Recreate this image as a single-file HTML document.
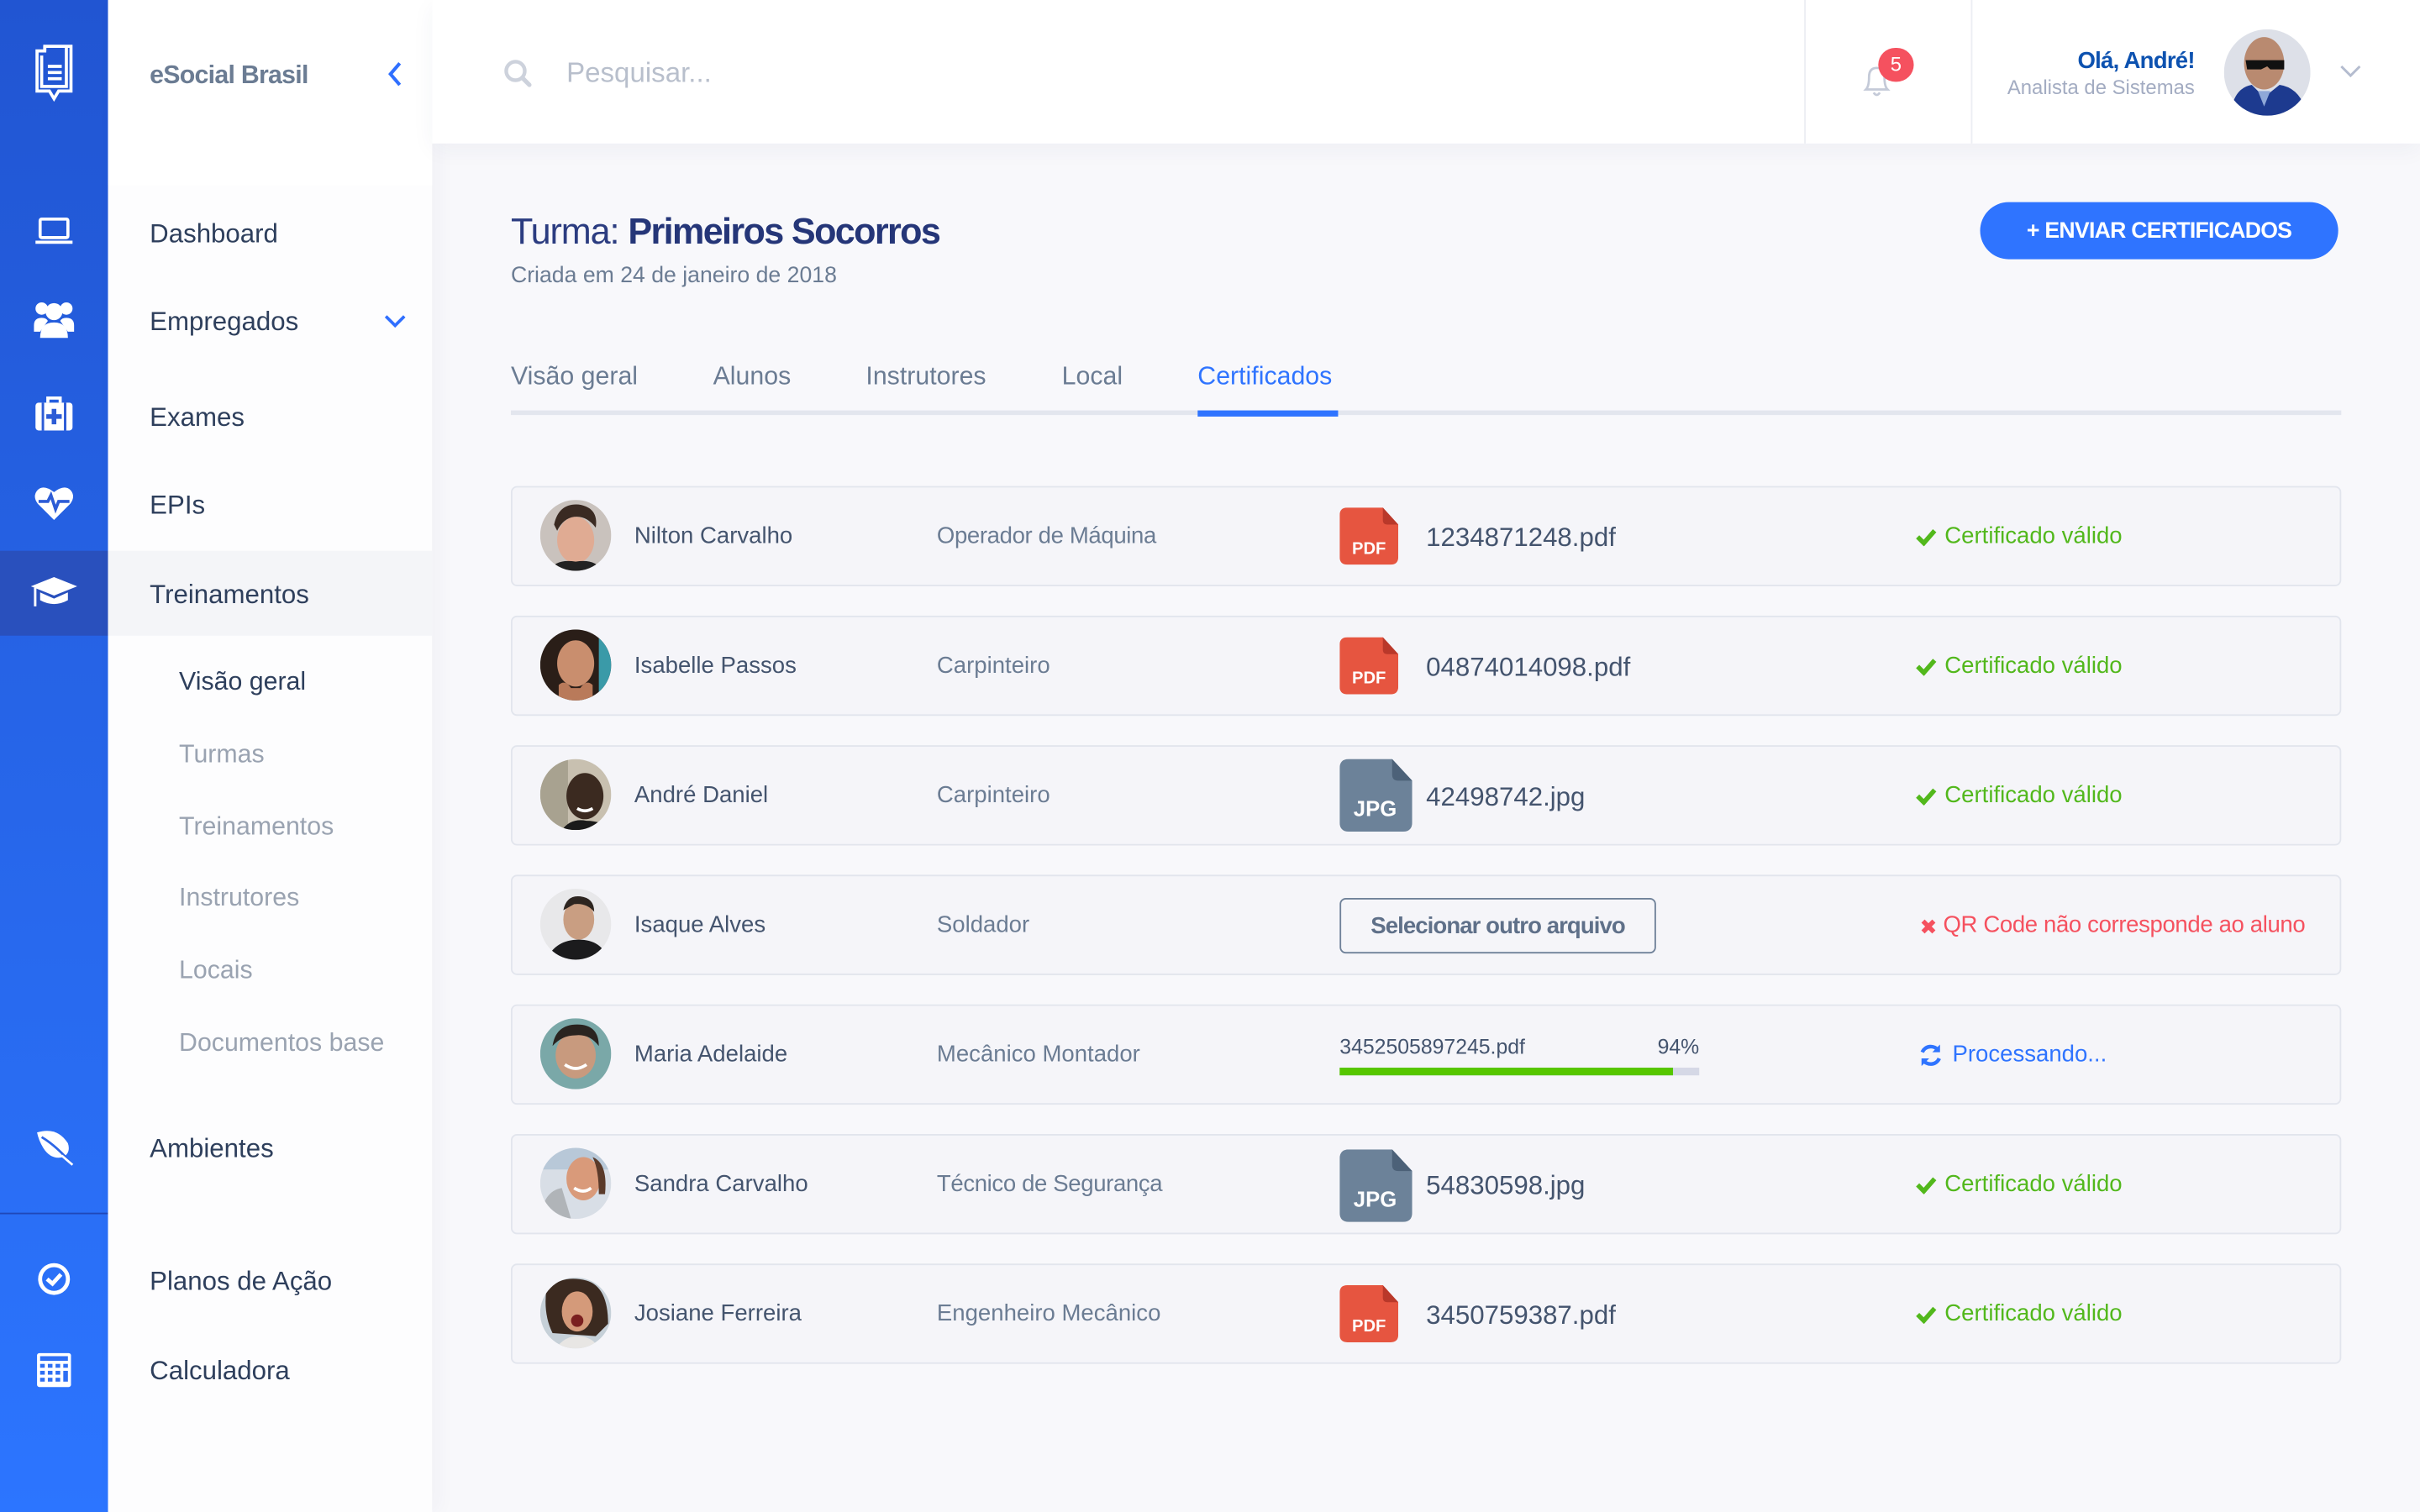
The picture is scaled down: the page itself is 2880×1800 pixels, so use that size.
<!DOCTYPE html>
<html><head><meta charset="utf-8">
<style>
html,body{margin:0;padding:0;width:2880px;height:1800px;overflow:hidden;background:#f8f8fb;}
#c{position:absolute;left:0;top:0;width:1568px;height:980px;transform:scale(1.836735);transform-origin:0 0;font-family:"Liberation Sans",Arial,sans-serif;background:#f8f8fb;overflow:hidden;}
.a{position:absolute;}
.t{position:absolute;white-space:nowrap;line-height:20px;height:20px;margin-top:1px;}
.row{position:absolute;left:331px;width:1184px;height:63px;background:#f5f5f9;border:1px solid #e2e5ed;border-radius:4px;}
.nm{font-size:15px;color:#44546e;}
.rl{font-size:15px;color:#6b7c93;}
.fn{font-size:17px;color:#44546e;}
.ok{font-size:15px;color:#52b81c;}
.mi{font-size:17px;color:#2e3f5c;}
.si{font-size:16.5px;color:#9aa3b1;}
</style></head><body>
<div id="c">
<!-- icon bar -->
<div class="a" style="left:0;top:0;width:70px;height:980px;background:linear-gradient(#2155d2,#2c75ff);"></div>
<div class="a" style="left:0;top:357px;width:70px;height:55px;background:#2950bd;"></div>
<div class="a" style="left:0;top:786px;width:70px;height:1px;background:#2048b8;"></div>

<!-- logo -->
<svg class="a" style="left:20px;top:27px" width="30" height="40" viewBox="0 0 30 40" fill="none" stroke="#fff" stroke-width="2">
<path d="M9 3 V6 H4 V32 H12 L15 37 L18 32 H26 V3 Z"/><path d="M9 3 L9 6"/><path d="M7 9 V29 H23 V3"/>
<line x1="11" y1="16" x2="20" y2="16"/><line x1="11" y1="20" x2="20" y2="20"/><line x1="11" y1="24" x2="20" y2="24"/>
</svg>
<!-- laptop -->
<svg class="a" style="left:22px;top:140px" width="26" height="20" viewBox="0 0 26 20" fill="none" stroke="#fff" stroke-width="2"><rect x="4" y="2" width="18" height="12" rx="1"/><path d="M1 17 H25"/></svg>
<!-- users -->
<svg class="a" style="left:21px;top:194px" width="28" height="26" viewBox="0 0 28 26" fill="#fff"><circle cx="6" cy="6" r="4"/><circle cx="22" cy="6" r="4"/><circle cx="14" cy="8" r="5.5"/><path d="M1 17 Q1 12 6 12 Q9 12 10 14 L5 21 H1 Z"/><path d="M27 17 Q27 12 22 12 Q19 12 18 14 L23 21 H27 Z"/><path d="M5 25 Q5 15 14 15 Q23 15 23 25 Z"/></svg>
<!-- medkit -->
<svg class="a" style="left:22px;top:256px" width="26" height="26" viewBox="0 0 26 26"><path d="M9 5 V2 H17 V5" fill="none" stroke="#fff" stroke-width="2"/><rect x="1" y="5" width="24" height="18" rx="2" fill="#fff"/><rect x="5" y="5" width="1.6" height="18" fill="#2d5cd6"/><rect x="19.4" y="5" width="1.6" height="18" fill="#2d5cd6"/><path d="M11.5 9 H14.5 V12.5 H18 V15.5 H14.5 V19 H11.5 V15.5 H8 V12.5 H11.5 Z" fill="#2d5cd6"/></svg>
<!-- heart -->
<svg class="a" style="left:22px;top:314px" width="26" height="24" viewBox="0 0 26 24"><path d="M13 23 L2.5 12.5 Q-1 8 2 4 Q6 -0.5 13 5 Q20 -0.5 24 4 Q27 8 23.5 12.5 Z" fill="#fff"/><polyline points="3,11 9,11 11,7 14,16 16,11 23,11" fill="none" stroke="#2d5cd6" stroke-width="2"/></svg>
<!-- grad cap -->
<svg class="a" style="left:19px;top:372px" width="32" height="24" viewBox="0 0 32 24" fill="#fff"><path d="M16 2 L31 8 L16 14 L1 8 Z"/><path d="M7 12 V17 Q16 22 25 17 V12 L16 16 Z"/><rect x="3" y="9" width="1.6" height="12"/></svg>
<!-- leaf -->
<svg class="a" style="left:23px;top:731px" width="26" height="26" viewBox="0 0 26 26"><path d="M1 3 Q14 -1 21 10 Q23 16 18 19 Q10 21 5 13 Q2 8 1 3 Z" fill="#fff"/><path d="M4 6 Q14 12 24 24" stroke="#2d66e6" stroke-width="1.5" fill="none"/><path d="M17 18 L24 24" stroke="#fff" stroke-width="1.5"/></svg>
<!-- check circle -->
<svg class="a" style="left:24px;top:818px" width="22" height="22" viewBox="0 0 22 22"><circle cx="11" cy="11" r="9" fill="none" stroke="#fff" stroke-width="2.6"/><polyline points="6.5,11 10,14 15.5,8" fill="none" stroke="#fff" stroke-width="2.6"/></svg>
<!-- calculator -->
<svg class="a" style="left:23px;top:876px" width="24" height="24" viewBox="0 0 24 24"><rect x="1" y="1" width="22" height="22" rx="1.5" fill="#fff"/><rect x="3" y="3" width="18" height="3" fill="#2e6ff4"/>
<g fill="#2e6ff4"><rect x="3" y="8" width="3" height="2.5"/><rect x="8" y="8" width="3" height="2.5"/><rect x="13" y="8" width="3" height="2.5"/><rect x="18" y="8" width="3" height="2.5"/><rect x="3" y="12.5" width="3" height="2.5"/><rect x="8" y="12.5" width="3" height="2.5"/><rect x="13" y="12.5" width="3" height="2.5"/><rect x="18" y="12.5" width="3" height="7"/><rect x="3" y="17" width="3" height="2.5"/><rect x="8" y="17" width="3" height="2.5"/><rect x="13" y="17" width="3" height="2.5"/></g></svg>

<!-- sidebar menu -->
<div class="a" style="left:70px;top:0;width:210px;height:980px;background:#fdfdfe;box-shadow:4px 0 12px rgba(40,50,90,0.04);"></div>
<div class="a" style="left:70px;top:0;width:210px;height:120px;background:#fff;"></div>
<div class="a" style="left:70px;top:357px;width:210px;height:55px;background:#f4f5f8;"></div>
<div class="t" style="left:97px;top:38px;font-size:16.5px;font-weight:bold;color:#6b7c93;letter-spacing:-0.4px;">eSocial Brasil</div>
<svg class="a" style="left:250px;top:39px" width="12" height="18" viewBox="0 0 12 18"><polyline points="9,2 3,9 9,16" fill="none" stroke="#2f6fff" stroke-width="2.2"/></svg>
<div class="t mi" style="left:97px;top:141px;">Dashboard</div>
<div class="t mi" style="left:97px;top:198px;">Empregados</div>
<svg class="a" style="left:248px;top:202px" width="16" height="12" viewBox="0 0 16 12"><polyline points="2,3 8,9 14,3" fill="none" stroke="#2f6fff" stroke-width="2"/></svg>
<div class="t mi" style="left:97px;top:260px;">Exames</div>
<div class="t mi" style="left:97px;top:317px;">EPIs</div>
<div class="t mi" style="left:97px;top:375px;">Treinamentos</div>
<div class="t" style="left:116px;top:431px;font-size:16.5px;color:#2e3f5c;">Visão geral</div>
<div class="t si" style="left:116px;top:478px;">Turmas</div>
<div class="t si" style="left:116px;top:525px;">Treinamentos</div>
<div class="t si" style="left:116px;top:571px;">Instrutores</div>
<div class="t si" style="left:116px;top:618px;">Locais</div>
<div class="t si" style="left:116px;top:665px;">Documentos base</div>
<div class="t mi" style="left:97px;top:734px;">Ambientes</div>
<div class="t mi" style="left:97px;top:820px;">Planos de Ação</div>
<div class="t mi" style="left:97px;top:878px;">Calculadora</div>

<!-- header -->
<div class="a" style="left:280px;top:0;width:1288px;height:93px;background:#fff;box-shadow:0 4px 14px rgba(40,50,90,0.05);"></div>
<div class="a" style="left:1169px;top:0;width:1px;height:93px;background:#eceef3;"></div>
<div class="a" style="left:1277px;top:0;width:1px;height:93px;background:#eceef3;"></div>
<svg class="a" style="left:326px;top:38px" width="19" height="19" viewBox="0 0 19 19"><circle cx="8" cy="8" r="6" fill="none" stroke="#cdd2dc" stroke-width="2.4"/><line x1="12.5" y1="12.5" x2="17" y2="17" stroke="#cdd2dc" stroke-width="2.8" stroke-linecap="round"/></svg>
<div class="t" style="left:367px;top:36px;font-size:18px;color:#b8bfcc;">Pesquisar...</div>
<svg class="a" style="left:1206px;top:40px" width="22" height="24" viewBox="0 0 22 24"><path d="M3 18 Q5 16 5 10 Q5 4 10 4 Q15 4 15 10 Q15 16 17 18 Z" fill="none" stroke="#c4cad8" stroke-width="1.5"/><path d="M8 20 Q10 23 12 20" fill="none" stroke="#c4cad8" stroke-width="1.5"/></svg>
<div class="a" style="left:1217px;top:31px;width:23px;height:22px;border-radius:11px;background:#f5515f;color:#fff;font-size:13px;line-height:22px;text-align:center;">5</div>
<div class="t" style="right:146px;top:29px;font-size:15px;font-weight:bold;color:#0d52b0;letter-spacing:-0.4px;">Olá, André!</div>
<div class="t" style="right:146px;top:46px;font-size:13px;color:#a3acc2;">Analista de Sistemas</div>
<svg class="a" style="left:1441px;top:19px" width="56" height="56" viewBox="0 0 56 56"><defs><clipPath id="hc"><circle cx="28" cy="28" r="28"/></clipPath></defs><g clip-path="url(#hc)"><rect width="56" height="56" fill="#dde0e8"/><ellipse cx="26" cy="22" rx="13" ry="17" fill="#b98a70"/><path d="M14 20 H39 V26 H30 L28 24 L24 26 H15 Z" fill="#111"/><path d="M4 56 Q6 38 18 36 L26 44 L36 36 Q50 38 54 56 Z" fill="#1d3a8f"/><path d="M22 40 L26 50 L30 40 Z" fill="#8fa8d8"/></g></svg>
<svg class="a" style="left:1515px;top:40px" width="16" height="12" viewBox="0 0 16 12"><polyline points="2,3 8,9 14,3" fill="none" stroke="#b4bccf" stroke-width="1.6"/></svg>

<!-- title -->
<div class="t" style="left:331px;top:134px;height:30px;line-height:30px;font-size:23.5px;color:#2b3c80;letter-spacing:-0.6px;">Turma: <b style="color:#253678;letter-spacing:-0.9px;">Primeiros Socorros</b></div>
<div class="t" style="left:331px;top:168px;font-size:14.5px;color:#6b7c93;">Criada em 24 de janeiro de 2018</div>
<div class="a" style="left:1283px;top:131px;width:232px;height:37px;border-radius:19px;background:#2f74ff;color:#fff;font-size:14.5px;font-weight:bold;line-height:38px;text-align:center;letter-spacing:-0.4px;">+ ENVIAR CERTIFICADOS</div>

<!-- tabs -->
<div class="t" style="left:331px;top:233px;font-size:16.5px;color:#6b7c93;">Visão geral</div>
<div class="t" style="left:462px;top:233px;font-size:16.5px;color:#6b7c93;">Alunos</div>
<div class="t" style="left:561px;top:233px;font-size:16.5px;color:#6b7c93;">Instrutores</div>
<div class="t" style="left:688px;top:233px;font-size:16.5px;color:#6b7c93;">Local</div>
<div class="t" style="left:776px;top:233px;font-size:16.5px;color:#2f74ff;">Certificados</div>
<div class="a" style="left:331px;top:266px;width:1186px;height:3px;background:#e3e6ee;"></div>
<div class="a" style="left:776px;top:266px;width:91px;height:4px;background:#2f74ff;"></div>

<!-- rows -->
<div class="row" style="top:315px;"></div>
<div class="row" style="top:399px;"></div>
<div class="row" style="top:483px;"></div>
<div class="row" style="top:567px;"></div>
<div class="row" style="top:651px;"></div>
<div class="row" style="top:735px;"></div>
<div class="row" style="top:819px;"></div>

<!-- avatars -->
<svg class="a" style="left:350px;top:324px" width="46" height="46" viewBox="0 0 46 46"><defs><clipPath id="c1"><circle cx="23" cy="23" r="23"/></clipPath></defs><g clip-path="url(#c1)"><rect width="46" height="46" fill="#c9c2bd"/><ellipse cx="23" cy="26" rx="12" ry="15" fill="#e0ab93"/><path d="M9 16 Q12 2 25 3 Q38 5 36 18 Q30 10 22 11 Q15 12 11 20 Z" fill="#3a2a22"/><path d="M6 46 Q10 38 23 40 Q36 38 40 46 Z" fill="#222"/></g></svg>
<svg class="a" style="left:350px;top:408px" width="46" height="46" viewBox="0 0 46 46"><defs><clipPath id="c2"><circle cx="23" cy="23" r="23"/></clipPath></defs><g clip-path="url(#c2)"><rect width="46" height="46" fill="#2a1e18"/><rect x="38" width="8" height="46" fill="#3a9aa8"/><ellipse cx="23" cy="22" rx="12" ry="15" fill="#c98e6e"/><path d="M12 36 Q16 32 20 38 L26 38 Q30 32 34 36 L34 46 H12 Z" fill="#b97a5a"/></g></svg>
<svg class="a" style="left:350px;top:492px" width="46" height="46" viewBox="0 0 46 46"><defs><clipPath id="c3"><circle cx="23" cy="23" r="23"/></clipPath></defs><g clip-path="url(#c3)"><rect width="46" height="46" fill="#c8c0b0"/><rect width="18" height="46" fill="#a8a290"/><ellipse cx="29" cy="24" rx="12" ry="15" fill="#3b2a20"/><path d="M24 32 Q29 35 34 32" stroke="#fff" stroke-width="2" fill="none"/><path d="M14 46 Q20 38 30 40 Q40 40 46 46 Z" fill="#1a1a1a"/></g></svg>
<svg class="a" style="left:350px;top:576px" width="46" height="46" viewBox="0 0 46 46"><defs><clipPath id="c4"><circle cx="23" cy="23" r="23"/></clipPath></defs><g clip-path="url(#c4)"><rect width="46" height="46" fill="#e8e8ea"/><ellipse cx="25" cy="20" rx="10" ry="13" fill="#c99e82"/><path d="M15 14 Q17 4 26 5 Q35 6 35 15 Q30 9 22 10 Z" fill="#2d2520"/><path d="M4 46 Q10 33 25 33 Q40 33 44 46 Z" fill="#1b1b1d"/></g></svg>
<svg class="a" style="left:350px;top:660px" width="46" height="46" viewBox="0 0 46 46"><defs><clipPath id="c5"><circle cx="23" cy="23" r="23"/></clipPath></defs><g clip-path="url(#c5)"><rect width="46" height="46" fill="#7aa8a8"/><ellipse cx="23" cy="24" rx="13" ry="15" fill="#c89a7e"/><path d="M8 18 Q10 4 24 4 Q38 4 38 18 Q32 10 23 11 Q14 11 8 18 Z" fill="#2a2420"/><path d="M16 30 Q23 35 30 30" stroke="#fff" stroke-width="2" fill="none"/></g></svg>
<svg class="a" style="left:350px;top:744px" width="46" height="46" viewBox="0 0 46 46"><defs><clipPath id="c6"><circle cx="23" cy="23" r="23"/></clipPath></defs><g clip-path="url(#c6)"><rect width="46" height="46" fill="#d8dee6"/><rect width="46" height="14" fill="#b8c8d8"/><path d="M0 46 Q2 28 14 26 L20 46 Z" fill="#b0b4b8"/><ellipse cx="28" cy="20" rx="11" ry="14" fill="#d99a7a"/><path d="M34 6 Q44 10 42 30 L38 30 Q38 14 34 6 Z" fill="#5a3a2a"/><path d="M22 26 Q28 30 33 26" stroke="#fff" stroke-width="2" fill="none"/></g></svg>
<svg class="a" style="left:350px;top:828px" width="46" height="46" viewBox="0 0 46 46"><defs><clipPath id="c7"><circle cx="23" cy="23" r="23"/></clipPath></defs><g clip-path="url(#c7)"><rect width="46" height="46" fill="#c6d0d8"/><path d="M4 8 Q14 -2 30 2 Q44 6 44 30 L36 38 L8 36 Q2 24 4 8 Z" fill="#3b2a20"/><ellipse cx="24" cy="22" rx="10" ry="13" fill="#d49a7a"/><ellipse cx="24" cy="28" rx="4" ry="4" fill="#7a2020"/><path d="M10 46 Q16 38 24 38 Q34 38 38 46 Z" fill="#e8e6e4"/></g></svg>

<!-- names/roles -->
<div class="t nm" style="left:411px;top:337px;">Nilton Carvalho</div>
<div class="t rl" style="left:607px;top:337px;letter-spacing:-0.2px;">Operador de Máquina</div>
<div class="t nm" style="left:411px;top:421px;">Isabelle Passos</div>
<div class="t rl" style="left:607px;top:421px;">Carpinteiro</div>
<div class="t nm" style="left:411px;top:505px;">André Daniel</div>
<div class="t rl" style="left:607px;top:505px;">Carpinteiro</div>
<div class="t nm" style="left:411px;top:589px;">Isaque Alves</div>
<div class="t rl" style="left:607px;top:589px;">Soldador</div>
<div class="t nm" style="left:411px;top:673px;">Maria Adelaide</div>
<div class="t rl" style="left:607px;top:673px;">Mecânico Montador</div>
<div class="t nm" style="left:411px;top:757px;">Sandra Carvalho</div>
<div class="t rl" style="left:607px;top:757px;letter-spacing:-0.2px;">Técnico de Segurança</div>
<div class="t nm" style="left:411px;top:841px;">Josiane Ferreira</div>
<div class="t rl" style="left:607px;top:841px;">Engenheiro Mecânico</div>

<!-- file icons -->
<svg class="a" style="left:868px;top:329px" width="38" height="37" viewBox="0 0 38 37"><path d="M5 0 H28 L38 11 V32 Q38 37 33 37 H5 Q0 37 0 32 V5 Q0 0 5 0 Z" fill="#e65540"/><path d="M28 0 L38 11 H31 Q28 11 28 8 Z" fill="#b9382a"/><text x="19" y="30" text-anchor="middle" font-family="Liberation Sans,Arial,sans-serif" font-weight="bold" font-size="11" fill="#fff">PDF</text></svg>
<svg class="a" style="left:868px;top:413px" width="38" height="37" viewBox="0 0 38 37"><path d="M5 0 H28 L38 11 V32 Q38 37 33 37 H5 Q0 37 0 32 V5 Q0 0 5 0 Z" fill="#e65540"/><path d="M28 0 L38 11 H31 Q28 11 28 8 Z" fill="#b9382a"/><text x="19" y="30" text-anchor="middle" font-family="Liberation Sans,Arial,sans-serif" font-weight="bold" font-size="11" fill="#fff">PDF</text></svg>
<svg class="a" style="left:868px;top:492px" width="47" height="47" viewBox="0 0 47 47"><path d="M6 0 H34 L47 14 V41 Q47 47 41 47 H6 Q0 47 0 41 V6 Q0 0 6 0 Z" fill="#6c8299"/><path d="M34 0 L47 14 H38 Q34 14 34 10 Z" fill="#4c6178"/><text x="23" y="37" text-anchor="middle" font-family="Liberation Sans,Arial,sans-serif" font-weight="bold" font-size="14" fill="#fff">JPG</text></svg>
<svg class="a" style="left:868px;top:745px" width="47" height="47" viewBox="0 0 47 47"><path d="M6 0 H34 L47 14 V41 Q47 47 41 47 H6 Q0 47 0 41 V6 Q0 0 6 0 Z" fill="#6c8299"/><path d="M34 0 L47 14 H38 Q34 14 34 10 Z" fill="#4c6178"/><text x="23" y="37" text-anchor="middle" font-family="Liberation Sans,Arial,sans-serif" font-weight="bold" font-size="14" fill="#fff">JPG</text></svg>
<svg class="a" style="left:868px;top:833px" width="38" height="37" viewBox="0 0 38 37"><path d="M5 0 H28 L38 11 V32 Q38 37 33 37 H5 Q0 37 0 32 V5 Q0 0 5 0 Z" fill="#e65540"/><path d="M28 0 L38 11 H31 Q28 11 28 8 Z" fill="#b9382a"/><text x="19" y="30" text-anchor="middle" font-family="Liberation Sans,Arial,sans-serif" font-weight="bold" font-size="11" fill="#fff">PDF</text></svg>

<div class="t fn" style="left:924px;top:338px;">1234871248.pdf</div>
<div class="t fn" style="left:924px;top:422px;">04874014098.pdf</div>
<div class="t fn" style="left:924px;top:506px;">42498742.jpg</div>
<div class="t fn" style="left:924px;top:758px;">54830598.jpg</div>
<div class="t fn" style="left:924px;top:842px;">3450759387.pdf</div>

<!-- row4 button -->
<div class="a" style="left:868px;top:582px;width:203px;height:34px;border:1.5px solid #6f8199;border-radius:4px;color:#5f7089;font-size:15px;font-weight:bold;line-height:36px;text-align:center;letter-spacing:-0.5px;">Selecionar outro arquivo</div>

<!-- row5 progress -->
<div class="t" style="left:868px;top:668px;font-size:13.5px;color:#44546e;">3452505897245.pdf</div>
<div class="t" style="left:1060px;width:41px;text-align:right;top:668px;font-size:13.5px;color:#44546e;">94%</div>
<div class="a" style="left:868px;top:692px;width:233px;height:5px;background:#d5d8e6;"></div>
<div class="a" style="left:868px;top:692px;width:216px;height:5px;background:#56c600;"></div>

<!-- statuses -->
<svg class="a" style="left:1241px;top:342px" width="14" height="12" viewBox="0 0 14 12"><polyline points="1.5,6 5.5,10 12.5,2" fill="none" stroke="#52b81c" stroke-width="3"/></svg>
<div class="t ok" style="left:1260px;top:337px;">Certificado válido</div>
<svg class="a" style="left:1241px;top:426px" width="14" height="12" viewBox="0 0 14 12"><polyline points="1.5,6 5.5,10 12.5,2" fill="none" stroke="#52b81c" stroke-width="3"/></svg>
<div class="t ok" style="left:1260px;top:421px;">Certificado válido</div>
<svg class="a" style="left:1241px;top:510px" width="14" height="12" viewBox="0 0 14 12"><polyline points="1.5,6 5.5,10 12.5,2" fill="none" stroke="#52b81c" stroke-width="3"/></svg>
<div class="t ok" style="left:1260px;top:505px;">Certificado válido</div>
<svg class="a" style="left:1244px;top:595px" width="11" height="11" viewBox="0 0 11 11"><path d="M2 2 L9 9 M9 2 L2 9" stroke="#f5515f" stroke-width="3"/></svg>
<div class="t" style="left:1259px;top:589px;font-size:15px;color:#f5515f;letter-spacing:-0.2px;">QR Code não corresponde ao aluno</div>
<svg class="a" style="left:1243px;top:676px" width="16" height="16" viewBox="0 0 16 16"><path d="M13 5 A6 6 0 0 0 2.5 6" fill="none" stroke="#2f74ff" stroke-width="2.4"/><path d="M14 1 V6 H9 Z" fill="#2f74ff"/><path d="M3 11 A6 6 0 0 0 13.5 10" fill="none" stroke="#2f74ff" stroke-width="2.4"/><path d="M2 15 V10 H7 Z" fill="#2f74ff"/></svg>
<div class="t" style="left:1265px;top:673px;font-size:15px;color:#2f74ff;">Processando...</div>
<svg class="a" style="left:1241px;top:762px" width="14" height="12" viewBox="0 0 14 12"><polyline points="1.5,6 5.5,10 12.5,2" fill="none" stroke="#52b81c" stroke-width="3"/></svg>
<div class="t ok" style="left:1260px;top:757px;">Certificado válido</div>
<svg class="a" style="left:1241px;top:846px" width="14" height="12" viewBox="0 0 14 12"><polyline points="1.5,6 5.5,10 12.5,2" fill="none" stroke="#52b81c" stroke-width="3"/></svg>
<div class="t ok" style="left:1260px;top:841px;">Certificado válido</div>
</div>
</body></html>
